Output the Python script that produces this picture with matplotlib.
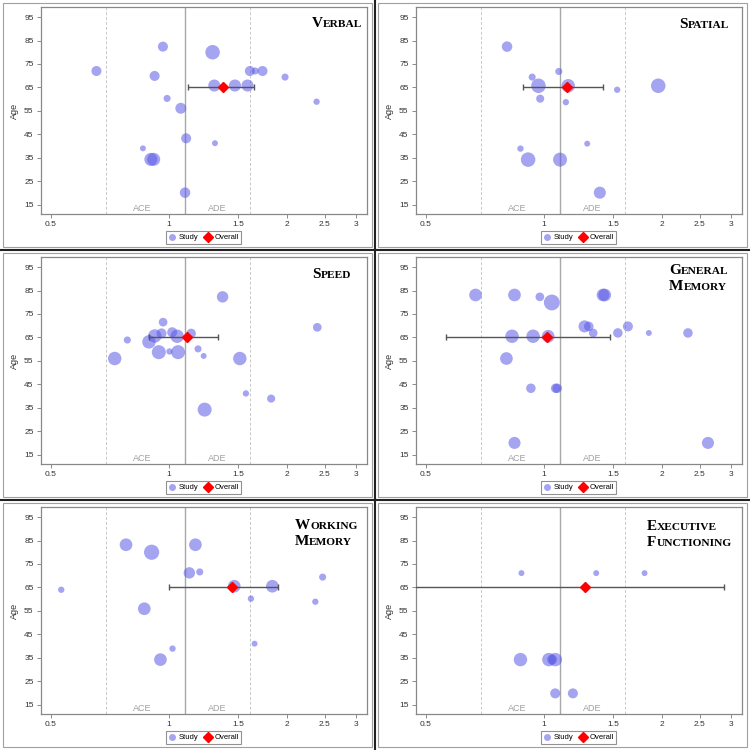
import numpy as np
import matplotlib
matplotlib.use("Agg")
import matplotlib.pyplot as plt
from matplotlib.lines import Line2D
from matplotlib.patches import Rectangle
from matplotlib.offsetbox import TextArea, HPacker, VPacker, AnchoredOffsetbox

plt.rcParams['font.family'] = ['Liberation Sans', 'DejaVu Sans']

# ---- DATA (ratio, age, study weight) ----
verbal_x = [0.654, 0.966, 1.293, 0.92, 1.609, 1.66, 1.733, 1.978, 1.306, 1.474, 1.587,
            0.99, 2.38, 1.073, 1.107, 1.311, 0.859, 0.90, 0.915, 1.10]
verbal_age = [72, 82.4, 80, 69.9, 72, 72, 72, 69.4, 65.8, 65.8, 65.8,
              60.3, 58.9, 56.1, 43.3, 41.2, 39, 34.3, 34.3, 20.1]
verbal_w = [10, 10, 21, 10, 10, 5, 10, 5, 14.5, 14.5, 14.5, 5, 4, 12, 10, 3.5, 3.5, 17, 17, 11]
verbal_overall = [1.377, 1.12, 1.647]

spatial_x = [0.806, 1.092, 0.934, 0.969, 1.154, 1.538, 1.957, 0.979, 1.138, 1.29, 0.872,
             0.912, 1.10, 1.389]
spatial_age = [82.4, 71.8, 69.4, 65.7, 65.7, 64, 65.7, 60.2, 58.7, 41, 38.9, 34.2, 34.2, 20.1]
spatial_w = [11, 5, 5, 21, 18, 4, 21, 6.5, 4, 3.5, 4, 21, 19.5, 14.5]
spatial_overall = [1.147, 0.887, 1.417]

speed_x = [1.371, 0.967, 2.39, 0.784, 0.89, 0.921, 0.958, 1.02, 1.05, 1.14, 0.943, 1.004,
           1.056, 1.187, 1.227, 0.728, 1.517, 1.572, 1.823, 1.234]
speed_age = [82.3, 71.5, 69.3, 63.9, 63.1, 65.6, 66.7, 67.2, 65.5, 66.7, 58.7, 59,
             58.7, 60.1, 57.1, 56, 56, 41.1, 38.9, 34.2]
speed_w = [13, 7.5, 7.5, 5, 18, 18, 10, 10, 18, 9, 19.5, 4, 19.5, 5, 3.5, 18, 18, 4, 6.5, 19.5]
speed_overall = [1.111, 0.89, 1.334]

genmem_x = [0.67, 0.842, 0.977, 1.048, 1.415, 1.43, 1.27, 1.302, 1.336, 1.544, 1.638, 1.852,
            2.33, 0.83, 0.939, 1.026, 0.803, 0.927, 1.072, 1.082, 0.842, 2.62]
genmem_age = [83.1, 83.1, 82.3, 79.9, 83.1, 83.1, 69.7, 69.7, 66.9, 66.9, 69.7, 66.9,
              66.9, 65.5, 65.5, 65.5, 56, 43.3, 43.3, 43.3, 20, 20]
genmem_w = [16, 16, 7.5, 25, 16, 16, 14.5, 9, 7.5, 9, 10, 3.5, 9, 18, 18, 16, 16, 9, 9, 9, 14.5, 14.5]
genmem_overall = [1.02, 0.564, 1.473]

workmem_x = [0.778, 0.904, 1.169, 1.128, 1.199, 2.466, 0.532, 1.468, 1.836, 1.619, 2.363,
             0.866, 1.022, 1.654, 0.952]
workmem_age = [83.2, 80, 83.2, 71.2, 71.6, 69.4, 64, 65.5, 65.5, 60.2, 58.9, 55.9, 38.9, 41, 34.2]
workmem_w = [16, 23, 16, 13, 5, 5, 4, 16, 16, 4, 4, 16, 4, 3.5, 16]
workmem_overall = [1.448, 1.002, 1.895]

exec_x = [0.877, 1.36, 1.806, 0.872, 1.03, 1.07, 1.05, 1.069, 1.186]
exec_age = [71.1, 71.1, 71.1, 34.2, 34.2, 34.2, 34.2, 19.8, 19.8]
exec_w = [3.5, 3.5, 3.5, 18, 18, 18, 10, 10, 10]
exec_overall = [1.277, 0.40, 2.877]

panels = [
    (["Verbal"], verbal_x, verbal_age, verbal_w, verbal_overall),
    (["Spatial"], spatial_x, spatial_age, spatial_w, spatial_overall),
    (["Speed"], speed_x, speed_age, speed_w, speed_overall),
    (["General", "Memory"], genmem_x, genmem_age, genmem_w, genmem_overall),
    (["Working", "Memory"], workmem_x, workmem_age, workmem_w, workmem_overall),
    (["Executive", "Functioning"], exec_x, exec_age, exec_w, exec_overall),
]
xticks = [0.5, 1, 1.5, 2, 2.5, 3]
xticklabels = ["0.5", "1", "1.5", "2", "2.5", "3"]
yticks = [15, 25, 35, 45, 55, 65, 75, 85, 95]
# title offsets from axes top-right corner (px)
title_off = [(4, 10), (12, 11), (15, 11), (13, 7), (9, 12), (10, 13)]

W, H = 750, 750
fig = plt.figure(figsize=(7.5, 7.5), dpi=100)
fig.patch.set_facecolor('white')

bubble_col = (0.35, 0.35, 0.9)


def smallcaps_line(word):
    big = TextArea(word[0].upper(), textprops=dict(family='Liberation Serif', weight='bold',
                                                   size=11, color='black'))
    small = TextArea(word[1:].upper(), textprops=dict(family='Liberation Serif', weight='bold',
                                                      size=8.2, color='black'))
    return HPacker(children=[big, small], align="baseline", pad=0, sep=0)


for i, (title, xs, ages, ws, ov) in enumerate(panels):
    col, row = i % 2, i // 2
    x0, y0 = col * 375, row * 250
    # cell frame
    fig.add_artist(Rectangle(((x0 + 3) / W, 1 - (y0 + 247) / H), 369 / W, 244 / H,
                             transform=fig.transFigure, fill=False, ec='#a0a0a0', lw=0.8))
    ax = fig.add_axes([(x0 + 40.5) / W, 1 - (y0 + 214) / H, 326 / W, 207 / H])
    ax.set_xscale('log')
    ax.set_xlim(0.471, 3.19)
    ax.set_ylim(11, 99.3)

    ax.axvline(1.1, color='#a8a8a8', lw=1.0, zorder=1)
    for v in (0.69, 1.61):
        ax.axvline(v, color='#c8c8c8', lw=0.7, ls=(0, (3, 2)), zorder=1)
    ax.text(0.857, 13.3, "ACE", color='#a0a0a0', fontsize=6.5, ha='center', va='center')
    ax.text(1.327, 13.3, "ADE", color='#a0a0a0', fontsize=6.5, ha='center', va='center')

    sz = np.array(ws) * 5.2
    ax.scatter(xs, ages, s=sz, color=bubble_col, alpha=0.55, lw=0, zorder=3)
    est, lo, hi = ov
    ax.errorbar([est], [65], xerr=[[est - lo], [hi - est]], fmt='none', ecolor='#555555',
                elinewidth=1, capsize=2.5, capthick=1, zorder=4)
    ax.plot([est], [65], marker='D', color='red', markersize=5.5, ls='none', zorder=5)

    ax.set_xticks(xticks)
    ax.set_xticklabels(xticklabels)
    ax.xaxis.set_minor_locator(matplotlib.ticker.NullLocator())
    ax.set_yticks(yticks)
    ax.tick_params(labelsize=6, colors='#333333', length=3, width=0.6, pad=2)
    ax.tick_params(axis='both', color='#777777')
    for sp in ax.spines.values():
        sp.set_color('#888888')
        sp.set_linewidth(0.9)
    ax.set_ylabel("Age", fontsize=6.5, color='#333333', labelpad=4)

    # small-caps title
    lines = [smallcaps_line(wd) for wd in title]
    box = VPacker(children=lines, align="left", pad=0, sep=2)
    dx, dy = title_off[i]
    anc = AnchoredOffsetbox(loc='upper right', child=box, pad=0, borderpad=0, frameon=False,
                            bbox_to_anchor=(1 - dx / 326, 1 - dy / 207),
                            bbox_transform=ax.transAxes)
    ax.add_artist(anc)

    # legend
    h1 = Line2D([], [], marker='o', ls='none', color=bubble_col, alpha=0.55, markersize=5,
                markeredgewidth=0)
    h2 = Line2D([], [], marker='D', ls='none', color='red', markersize=5.5)
    leg = ax.legend([h1, h2], ["Study", "Overall"], loc='center', ncol=2,
                    bbox_to_anchor=(0.5, -0.115), fontsize=5.5, frameon=True, fancybox=False,
                    handlelength=1.0, handletextpad=0.3, columnspacing=0.8, borderpad=0.35,
                    borderaxespad=0)
    leg.get_frame().set_edgecolor('#777777')
    leg.get_frame().set_linewidth(0.8)

# black separators between cells
fig.add_artist(Line2D([375 / W, 375 / W], [0, 1], color='#222222', lw=1.5,
                      transform=fig.transFigure))
for yy in (250, 500):
    fig.add_artist(Line2D([0, 1], [1 - yy / H, 1 - yy / H], color='#222222', lw=1.5,
                          transform=fig.transFigure))

fig.savefig("out.png", dpi=100)
